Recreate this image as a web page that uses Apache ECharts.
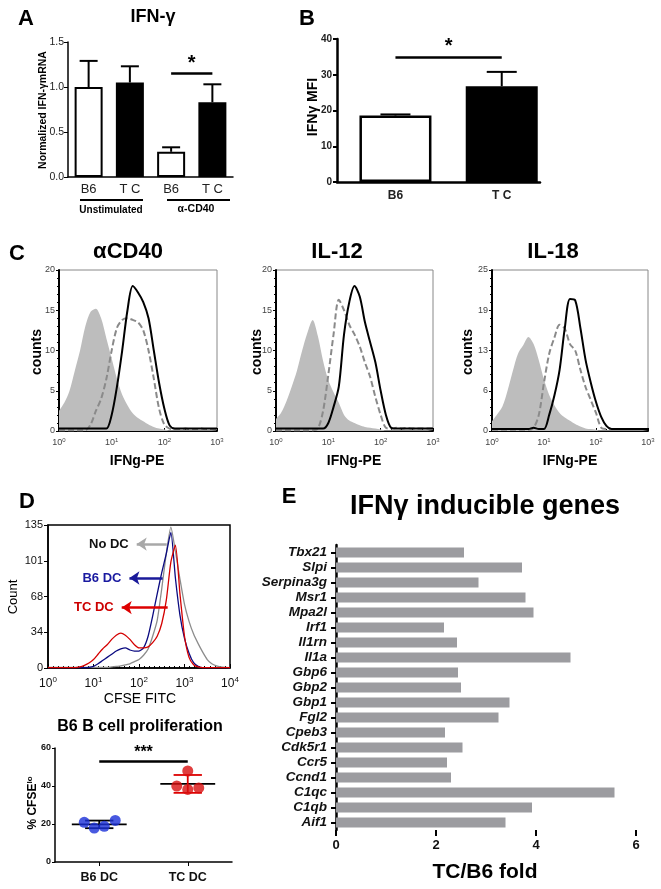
<!DOCTYPE html>
<html><head><meta charset="utf-8">
<script src="https://cdn.jsdelivr.net/npm/echarts@6.0.0/dist/echarts.min.js"></script>
<style>html,body{margin:0;padding:0;background:#fff}#c{width:661px;height:889px}</style>
</head><body><div id="c"></div>
<script>
// ---------- DATA ----------
// Panel A
const aLabels = ['B6','T C','B6','T C'];
const aMeans  = [1.00, 1.05, 0.28, 0.83];
const aErrTop = [1.29, 1.23, 0.33, 1.03];
const aSigY = 1.155;
// Panel B
const bLabels = ['B6','T C'];
const bMeans  = [18.6, 26.8];
const bErrTop = [18.9, 30.8];
const bSigY = 35;
// Panel C (x = log10 IFNg-PE)
const cPos = [0,0.1,0.2,0.3,0.4,0.5,0.6,0.7,0.8,0.9,1,1.1,1.2,1.3,1.4,1.5,1.6,1.7,1.8,1.9,2,2.1,2.2,2.3,2.4,2.5,2.6,2.7,2.8,2.9,3];
const cd40Iso  = [2.5,3.5,5,7.5,10,13,14.8,15.2,14,11.5,9,6.5,4.5,3.2,2.2,1.6,1.2,0.8,0.5,0.3,0.2,0.1,0.1,0.1,0.1,0.1,0.1,0.1,0.1,0.1,0.1];
const cd40B6   = [0.1,0.1,0.1,0.1,0.1,0.1,0.8,2.5,4,6.5,10,12.8,13.8,14,13.8,13.5,12.5,10,6.5,2.8,0.8,0.3,0.2,0.2,0.3,0.2,0.2,0.3,0.2,0.2,0.2];
const cd40TC   = [0.3,0.3,0.3,0.3,0.3,0.3,0.3,0.3,0.3,0.3,2,5.5,10,15,18,17.2,16,14,10,6,2.8,0.7,0.3,0.3,0.3,0.3,0.3,0.3,0.3,0.3,0.3];
const il12Iso  = [1.5,2.3,3.7,5.5,7.5,10,12.2,13.8,11.8,8.7,6.3,4.8,3.5,2,1.3,1,0.7,0.5,0.4,0.3,0.2,0.1,0.1,0.1,0.1,0.1,0.1,0.1,0.1,0.1,0.1];
const il12B6   = [0.1,0.1,0.1,0.1,0.1,0.1,0.1,0.1,0.3,2.5,7,12,16.3,15,13.2,12,10.5,8.5,6.7,4.2,2,0.4,0.3,0.4,0.3,0.4,0.3,0.3,0.3,0.3,0.3];
const il12TC   = [0.3,0.3,0.3,0.3,0.3,0.3,0.3,0.3,0.3,0.3,1,3,5.5,12,16,18,16.7,13.5,11,8.5,5,2,0.4,0.3,0.3,0.3,0.3,0.3,0.3,0.3,0.3];
const il18Iso  = [1.5,2.6,3.8,6.3,9.3,12,13.3,14.6,13.5,11,8,5.6,4,2.8,2.1,1.6,1.1,0.7,0.4,0.3,0.2,0.1,0.1,0.1,0.1,0.1,0.1,0.1,0.1,0.1,0.1];
const il18B6   = [0.2,0.2,0.2,0.2,0.2,0.2,0.2,0.2,0.5,2.5,7.5,12,14.5,16.5,15.9,13.5,12.5,9.5,6.8,4.8,2.8,0.5,0.3,0.3,0.3,0.3,0.3,0.3,0.3,0.3,0.3];
const il18TC   = [0.3,0.3,0.3,0.3,0.3,0.3,0.3,0.3,0.5,0.3,0.3,2.5,5.5,9.5,16,20.5,20.3,16,11,7.5,4.5,2.2,0.8,0.3,0.3,0.3,0.3,0.3,0.3,0.3,0.3];
// Panel D histogram (x = log10 CFSE FITC)
const dPos = [0,0.1,0.2,0.3,0.4,0.5,0.6,0.7,0.8,0.9,1,1.1,1.2,1.3,1.4,1.5,1.6,1.7,1.8,1.9,2,2.1,2.2,2.3,2.4,2.5,2.6,2.7,2.8,2.9,3,3.1,3.2,3.3,3.4,3.5,3.6,3.7,3.8,3.9,4];
const dNoDC = [0.5,0.5,0.5,0.5,0.5,0.5,0.5,0.5,0.5,0.5,0.5,0.5,0.5,0.5,1,1.5,2,3,4,6,8,12,18,30,45,75,108,133,110,84,60,44,32,23,15,8,4,2,1,0.5,0.3];
const dB6DC = [0.3,0.3,0.3,0.3,0.3,0.3,0.3,0.3,0.3,0.5,1.5,4,7,10,13,16,18,19,17,16,16,19,30,49,70,90,108,128,85,50,28,14,5,1.5,0.3,0.3,0.3,0.3,0.3,0.3,0.3];
const dTCDC = [0.3,0.3,0.3,0.3,0.3,0.3,0.3,1,2.5,4.7,8,13,18,22,27,31,33,31,27,22,19,19,20,24,30,42,64,100,116,70,30,10,3,1,0.3,0.3,0.3,0.3,0.3,0.3,0.3];
// Panel D scatter (% CFSE lo)
const sCats = ['B6 DC','TC DC'];
const sB6 = [20.9, 17.9, 18.8, 21.9];
const sTC = [40.0, 47.9, 38.2, 39.0];
const sMean = [19.8, 41.1];
const sSD = [2.0, 4.7];
const sSigY = 53.2;
// Panel E
const eGenes = ['Tbx21','Slpi','Serpina3g','Msr1','Mpa2l','Irf1','Il1rn','Il1a','Gbp6','Gbp2','Gbp1','Fgl2','Cpeb3','Cdk5r1','Ccr5','Ccnd1','C1qc','C1qb','Aif1'];
const eFold = [2.56,3.72,2.85,3.79,3.95,2.16,2.42,4.69,2.44,2.50,3.47,3.25,2.18,2.53,2.22,2.30,5.57,3.92,3.39];

// ---------- STYLE / LAYOUT ----------
const FF = '"Liberation Sans", Arial, sans-serif';
const jitterB6 = [-15,-5,5,16];
const jitterTC = [-11,0,0,11];
const pair = (xs, ys) => xs.map((x,i)=>[x, ys[i]]);

const grids = [
  {left:68, top:42, width:165, height:135},   // 0 A
  {left:337, top:39, width:203, height:143},  // 1 B
  {left:59, top:270, width:158, height:161, show:true, borderColor:'#888', borderWidth:1},   // 2 C1
  {left:276, top:270, width:157, height:161, show:true, borderColor:'#888', borderWidth:1},  // 3 C2
  {left:492, top:270, width:156, height:161, show:true, borderColor:'#888', borderWidth:1},  // 4 C3
  {left:48, top:525, width:182, height:143, show:true, borderColor:'#000', borderWidth:1.5}, // 5 D hist
  {left:55, top:748, width:177, height:114},  // 6 D scatter
  {left:336, top:545, width:300, height:285}  // 7 E
];

const sup = (fs, col) => ({
  formatter: v => '{b|10}{s|' + Math.round(v) + '}',
  rich: { b:{fontSize:fs, color:col, fontFamily:FF}, s:{fontSize:Math.round(fs*0.7), color:col, fontFamily:FF, padding:[0,0,fs*0.6,0]} }
});

function cX(gi){
  return {type:'value', gridIndex:gi, min:0, max:3, interval:1,
    axisLine:{lineStyle:{color:'#000', width:2}}, axisTick:{show:true, inside:true, length:3, lineStyle:{color:'#000'}},
    minorTick:{show:true, splitNumber:5, length:2, lineStyle:{color:'#000'}},
    splitLine:{show:false}, axisLabel:Object.assign({margin:6}, sup(9,'#444'))};
}
function cY(gi, max, interval){
  return {type:'value', gridIndex:gi, min:0, max:max, interval:interval,
    axisLine:{show:true, lineStyle:{color:'#000', width:2}}, axisTick:{show:true, length:3, lineStyle:{color:'#000'}},
    minorTick:{show:true, splitNumber:5, length:2, lineStyle:{color:'#000'}},
    splitLine:{show:false}, axisLabel:{fontSize:9, color:'#444', fontFamily:FF, margin:4, formatter:v=>Math.round(v)}};
}

const xAxes = [
  {type:'category', gridIndex:0, data:aLabels,
    axisLine:{lineStyle:{color:'#000', width:1.5}}, axisTick:{show:false},
    axisLabel:{fontSize:13, color:'#222', fontFamily:FF, margin:6}},
  {type:'value', gridIndex:1, min:0.45, max:2.36,
    axisLine:{lineStyle:{color:'#000', width:2.5}}, axisTick:{show:false}, splitLine:{show:false},
    axisLabel:{customValues:[1,2], formatter:v=>bLabels[Math.round(v)-1], fontSize:12, fontWeight:'bold', color:'#222', fontFamily:FF, margin:8}},
  cX(2), cX(3), cX(4),
  {type:'value', gridIndex:5, min:0, max:4, interval:1,
    axisLine:{lineStyle:{color:'#000', width:1.5}}, axisTick:{show:true, inside:true, length:4, lineStyle:{color:'#000'}},
    minorTick:{show:true, splitNumber:9, length:2, lineStyle:{color:'#000'}},
    splitLine:{show:false}, axisLabel:Object.assign({margin:8}, sup(12,'#111'))},
  {type:'category', gridIndex:6, data:sCats,
    axisLine:{lineStyle:{color:'#000', width:1.5}}, axisTick:{show:true, alignWithLabel:true, length:4, lineStyle:{color:'#000'}},
    axisLabel:{fontSize:12.5, fontWeight:'bold', color:'#111', fontFamily:FF, margin:9}},
  {type:'value', gridIndex:7, min:0, max:6, interval:2,
    axisLine:{lineStyle:{color:'#000', width:2.5}}, axisTick:{show:true, length:6, lineStyle:{color:'#000', width:2}},
    splitLine:{show:false}, axisLabel:{fontSize:13, fontWeight:'bold', color:'#111', fontFamily:FF, margin:9}}
];
const yAxes = [
  {type:'value', gridIndex:0, min:0, max:1.5, interval:0.5,
    axisLine:{show:true, lineStyle:{color:'#000', width:1.5}}, axisTick:{show:true, length:4, lineStyle:{color:'#000'}},
    splitLine:{show:false}, axisLabel:{fontSize:10.5, color:'#222', fontFamily:FF, formatter:v=>v.toFixed(1), margin:4}},
  {type:'value', gridIndex:1, min:0, max:40, interval:10,
    axisLine:{show:true, lineStyle:{color:'#000', width:2.5}}, axisTick:{show:true, length:4, lineStyle:{color:'#000', width:2}},
    splitLine:{show:false}, axisLabel:{fontSize:10, fontWeight:'bold', color:'#222', fontFamily:FF, margin:5}},
  cY(2,20,5), cY(3,20,5), cY(4,25,6.25),
  {type:'value', gridIndex:5, min:0, max:135, interval:33.75,
    axisLine:{show:true, lineStyle:{color:'#000', width:1.5}}, axisTick:{show:true, length:4, lineStyle:{color:'#000'}},
    splitLine:{show:false}, axisLabel:{fontSize:11, color:'#111', fontFamily:FF, formatter:v=>Math.round(v), margin:5}},
  {type:'value', gridIndex:6, min:0, max:60, interval:20,
    axisLine:{show:true, lineStyle:{color:'#000', width:1.5}}, axisTick:{show:true, length:3, lineStyle:{color:'#000'}},
    splitLine:{show:false}, axisLabel:{fontSize:9, fontWeight:'bold', color:'#111', fontFamily:FF, margin:4}},
  {type:'category', gridIndex:7, data:eGenes, inverse:true,
    axisLine:{lineStyle:{color:'#000', width:2.5}}, axisTick:{show:true, alignWithLabel:true, interval:0, length:5, lineStyle:{color:'#000', width:2}},
    axisLabel:{interval:0, fontSize:13.5, fontWeight:'bold', fontStyle:'italic', color:'#111', fontFamily:FF, margin:9}}
];

function errBars(xi, data, half){
  return {type:'custom', xAxisIndex:xi, yAxisIndex:xi, data:data, z:3, silent:true,
    renderItem:(p, api)=>{
      const x = api.value(0);
      const a = api.coord([x, api.value(1)]);
      const b = api.coord([x, api.value(2)]);
      return {type:'group', children:[
        {type:'line', shape:{x1:a[0], y1:a[1], x2:b[0], y2:b[1]}, style:{stroke:'#000', lineWidth:2}},
        {type:'line', shape:{x1:b[0]-half, y1:b[1], x2:b[0]+half, y2:b[1]}, style:{stroke:'#000', lineWidth:2}}
      ]};
    }};
}
function sigLine(x1, x2, y, txt, fs){
  return {silent:true, symbol:'none', animation:false,
    lineStyle:{color:'#000', width:2.5, type:'solid'},
    label:{show:true, position:'middle', formatter:txt, fontSize:fs, fontWeight:'bold', color:'#000', fontFamily:FF, distance:0},
    data:[[{coord:[x1,y]},{coord:[x2,y]}]]};
}
function histSeries(gi, iso, b6, tc){
  return [
    {type:'line', xAxisIndex:gi, yAxisIndex:gi, data:pair(cPos, iso), symbol:'none', smooth:0.3,
      lineStyle:{width:0}, areaStyle:{color:'#bdbdbd', opacity:1}, z:1},
    {type:'line', xAxisIndex:gi, yAxisIndex:gi, data:pair(cPos, b6), symbol:'none', smooth:0.3,
      lineStyle:{color:'#8a8a8a', width:2, type:[6,3]}, z:2},
    {type:'line', xAxisIndex:gi, yAxisIndex:gi, data:pair(cPos, tc), symbol:'none', smooth:0.3,
      lineStyle:{color:'#000', width:2}, z:3}
  ];
}
function arrowLine(x1, x2, y, col, name, labCol){
  return {silent:true, symbol:['none','arrow'], symbolSize:[10,10], animation:false,
    lineStyle:{color:col, width:2.5, type:'solid'},
    label:{show:true, position:'end', formatter:name, color:labCol, fontSize:13, fontWeight:'bold', fontFamily:FF, distance:8},
    data:[[{coord:[x1,y]},{coord:[x2,y]}]]};
}

const series = [
  // A
  {type:'bar', xAxisIndex:0, yAxisIndex:0, barWidth:28, z:2,
    data:aMeans.map((v,i)=>({value:v, itemStyle:{color:i%2?'#000':'#fff', borderColor:'#000', borderWidth:2}})),
    markLine:sigLine(2,3,aSigY,'*',20)},
  errBars(0, aMeans.map((v,i)=>[i, v, aErrTop[i]]), 9),
  // B
  {type:'bar', xAxisIndex:1, yAxisIndex:1, barWidth:72, z:2,
    data:bMeans.map((v,i)=>({value:[i+1, v], itemStyle:{color:i?'#000':'#fff', borderColor:'#000', borderWidth:2.5}})),
    markLine:sigLine(1,2,bSigY,'*',20)},
  errBars(1, bMeans.map((v,i)=>[i+1, v, bErrTop[i]]), 15),
  // C
  ...histSeries(2, cd40Iso, cd40B6, cd40TC),
  ...histSeries(3, il12Iso, il12B6, il12TC),
  ...histSeries(4, il18Iso, il18B6, il18TC),
  // D histogram
  {type:'line', xAxisIndex:5, yAxisIndex:5, data:pair(dPos, dNoDC), symbol:'none', smooth:0.2,
    lineStyle:{color:'#8c8c8c', width:1.3}, markLine:arrowLine(2.61,1.95,117,'#a8a8a8','No DC','#111')},
  {type:'line', xAxisIndex:5, yAxisIndex:5, data:pair(dPos, dB6DC), symbol:'none', smooth:0.2,
    lineStyle:{color:'#0a0a80', width:1.3}, markLine:arrowLine(2.52,1.79,85,'#1a1a9a','B6 DC','#1a1aa0')},
  {type:'line', xAxisIndex:5, yAxisIndex:5, data:pair(dPos, dTCDC), symbol:'none', smooth:0.2,
    lineStyle:{color:'#d40000', width:1.3}, markLine:arrowLine(2.63,1.62,57,'#dd0000','TC DC','#cc0000')},
  // D scatter
  {type:'custom', xAxisIndex:6, yAxisIndex:6, z:2, silent:true,
    data:sMean.map((m,i)=>[i, m, sSD[i]]),
    renderItem:(p, api)=>{
      const i = api.value(0), m = api.value(1), sd = api.value(2);
      const band = api.size([1,0])[0];
      const c = api.coord([i, m]), hi = api.coord([i, m+sd]), lo = api.coord([i, m-sd]);
      const col = i ? '#d00' : '#000';
      const mh = band*0.31, ch = band*0.16;
      return {type:'group', children:[
        {type:'line', shape:{x1:c[0]-mh, y1:c[1], x2:c[0]+mh, y2:c[1]}, style:{stroke:'#000', lineWidth:1.8}},
        {type:'line', shape:{x1:hi[0], y1:hi[1], x2:lo[0], y2:lo[1]}, style:{stroke:col, lineWidth:1.8}},
        {type:'line', shape:{x1:hi[0]-ch, y1:hi[1], x2:hi[0]+ch, y2:hi[1]}, style:{stroke:col, lineWidth:1.8}},
        {type:'line', shape:{x1:lo[0]-ch, y1:lo[1], x2:lo[0]+ch, y2:lo[1]}, style:{stroke:col, lineWidth:1.8}}
      ]};
    },
    markLine:sigLine(0,1,sSigY,'***',16)},
  {type:'scatter', xAxisIndex:6, yAxisIndex:6, z:3, symbolSize:11,
    itemStyle:{color:'#1a2fd8'},
    data:sB6.map((v,i)=>({value:[0, v], symbolOffset:[jitterB6[i],0]}))},
  {type:'scatter', xAxisIndex:6, yAxisIndex:6, z:3, symbolSize:11,
    itemStyle:{color:'#d80f0f'},
    data:sTC.map((v,i)=>({value:[1, v], symbolOffset:[jitterTC[i],0]}))},
  // E
  {type:'bar', xAxisIndex:7, yAxisIndex:7, barWidth:10, data:eFold, itemStyle:{color:'#9c9ca0'}}
];

function txt(x, y, text, size, opts){
  return Object.assign({type:'text', x:x, y:y, silent:true,
    style:Object.assign({text:text, fontSize:size, fontFamily:FF, fontWeight:'bold', fill:'#000', align:'center', verticalAlign:'middle'}, (opts||{}).style||{})},
    (opts||{}).el||{});
}
const graphics = [
  txt(26, 19, 'A', 22),
  txt(153, 17, 'IFN-γ', 18),
  txt(307, 19, 'B', 22),
  txt(17, 254, 'C', 22),
  txt(128, 252, 'αCD40', 22),
  txt(337, 252, 'IL-12', 22),
  txt(553, 252, 'IL-18', 22),
  txt(27, 502, 'D', 22),
  txt(140, 727, 'B6 B cell proliferation', 16),
  txt(289, 497, 'E', 22),
  txt(485, 507, 'IFNγ inducible genes', 27),
  // axis titles
  txt(43, 110, 'Normalized IFN-γmRNA', 10.5, {el:{rotation:Math.PI/2}}),
  txt(313, 107, 'IFNγ MFI', 14, {el:{rotation:Math.PI/2}}),
  txt(37, 352, 'counts', 14, {el:{rotation:Math.PI/2}}),
  txt(257, 352, 'counts', 14, {el:{rotation:Math.PI/2}}),
  txt(468, 352, 'counts', 14, {el:{rotation:Math.PI/2}}),
  txt(137, 461, 'IFNg-PE', 14),
  txt(354, 461, 'IFNg-PE', 14),
  txt(570, 461, 'IFNg-PE', 14),
  txt(13, 597, 'Count', 13, {el:{rotation:Math.PI/2}, style:{fontWeight:'normal'}}),
  txt(140, 699, 'CFSE FITC', 14, {style:{fontWeight:'normal'}}),
  {type:'text', x:33, y:803, rotation:Math.PI/2, silent:true,
    style:{text:'{a|% CFSE}{b|lo}', fontFamily:FF, align:'center', verticalAlign:'middle',
      rich:{a:{fontSize:12, fontWeight:'bold', fontFamily:FF}, b:{fontSize:8, fontWeight:'bold', fontFamily:FF, padding:[0,0,7,0]}}}},
  txt(485, 872, 'TC/B6 fold', 21),
  // A group labels
  {type:'line', silent:true, shape:{x1:80, y1:200, x2:143, y2:200}, style:{stroke:'#000', lineWidth:2}},
  {type:'line', silent:true, shape:{x1:167, y1:200, x2:230, y2:200}, style:{stroke:'#000', lineWidth:2}},
  txt(111, 210, 'Unstimulated', 10),
  txt(196, 209, 'α-CD40', 10.5)
];

const chart = echarts.init(document.getElementById('c'), null, {renderer:'canvas'});
chart.setOption({
  animation:false,
  backgroundColor:'#fff',
  textStyle:{fontFamily:FF},
  grid:grids, xAxis:xAxes, yAxis:yAxes, series:series, graphic:graphics
});
</script>
</body></html>
